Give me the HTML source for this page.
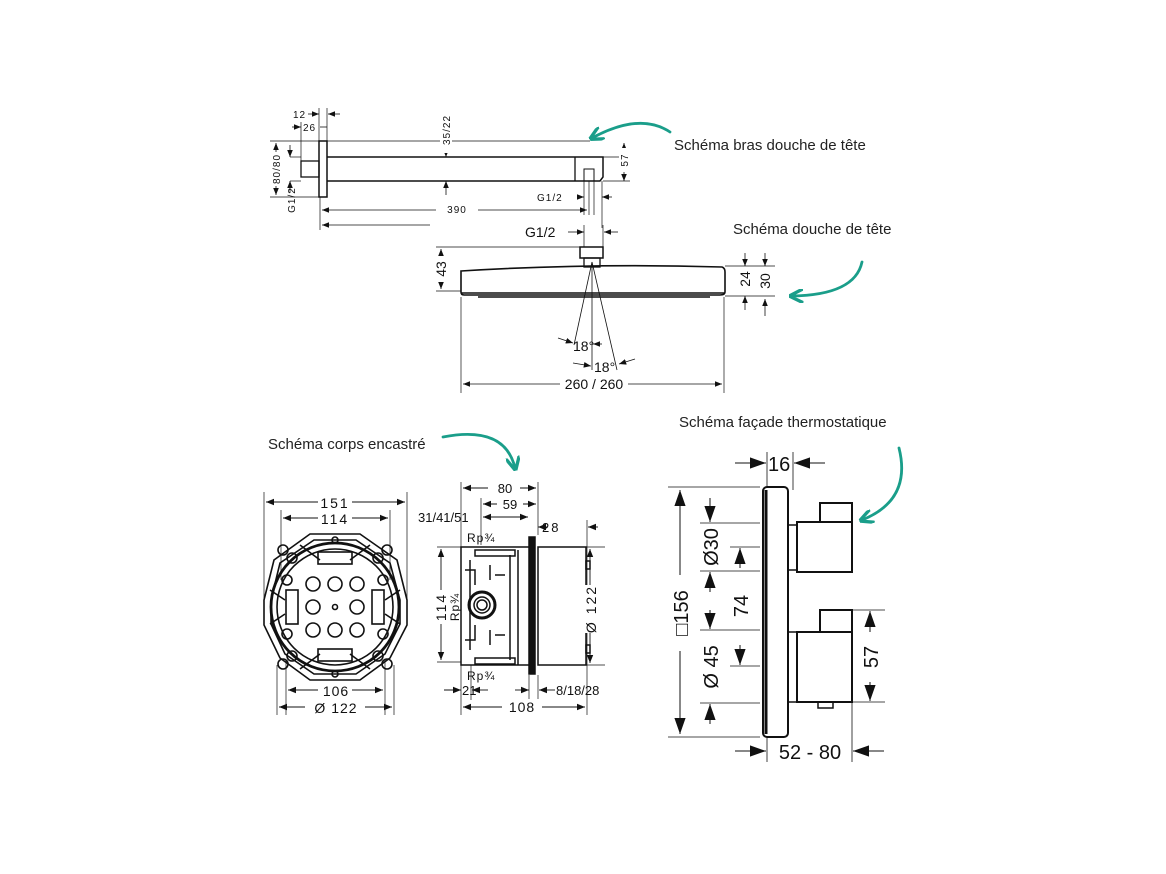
<!DOCTYPE html>
<html><head><meta charset="utf-8"><style>
html,body{margin:0;padding:0;background:#fff;}
svg{display:block;}
text{font-family:"Liberation Sans",sans-serif;fill:#111;}
.t{font-family:"Liberation Sans",sans-serif;fill:#222;font-size:15px;}
</style></head><body>
<svg width="1166" height="874" viewBox="0 0 1166 874" xmlns="http://www.w3.org/2000/svg">
<defs>
<marker id="a" viewBox="0 0 10 10" refX="10" refY="5" markerWidth="9" markerHeight="9" orient="auto-start-reverse"><path d="M0,1 L10,5 L0,9 z" fill="#111"/></marker>
<marker id="b" viewBox="0 0 10 10" refX="10" refY="5" markerWidth="16" markerHeight="16" orient="auto-start-reverse"><path d="M0,1.5 L10,5 L0,8.5 z" fill="#111"/></marker>
<marker id="g" viewBox="0 0 10 10" refX="8" refY="5" markerWidth="5" markerHeight="5" orient="auto"><path d="M0,0 L10,5 L0,10" fill="none" stroke="#1a9e8a" stroke-width="2.4"/></marker>
</defs>
<rect width="1166" height="874" fill="#fff"/>
<g stroke="#111" fill="none" stroke-width="1">
<!-- ===== Arm ===== -->
<rect x="319" y="141" width="8" height="56" stroke-width="1.5"/>
<rect x="301" y="161" width="18" height="16" stroke-width="1.3"/>
<path d="M327 157 H603 V177 L600 181 H327" stroke-width="1.5"/>
<line x1="575" y1="157" x2="575" y2="181" stroke-width="1.3"/>
<rect x="584" y="169" width="10" height="12"/>
<line x1="270" y1="141" x2="590" y2="141" stroke-width="0.7"/>
<line x1="270" y1="197" x2="319" y2="197" stroke-width="0.7"/>
<line x1="290" y1="157" x2="301" y2="157" stroke-width="0.7"/>
<line x1="290" y1="181" x2="301" y2="181" stroke-width="0.7"/>
<line x1="276" y1="143" x2="276" y2="195" marker-start="url(#a)" marker-end="url(#a)" stroke-width="0.8"/>
<line x1="290" y1="145" x2="290" y2="157" marker-end="url(#a)" stroke-width="0.8"/>
<line x1="290" y1="193" x2="290" y2="181" marker-end="url(#a)" stroke-width="0.8"/>
<line x1="319" y1="108" x2="319" y2="141" stroke-width="0.7"/>
<line x1="327" y1="108" x2="327" y2="141" stroke-width="0.7"/>
<line x1="301" y1="122" x2="301" y2="161" stroke-width="0.7"/>
<line x1="308" y1="114" x2="319" y2="114" marker-end="url(#a)" stroke-width="0.8"/>
<line x1="340" y1="114" x2="328" y2="114" marker-end="url(#a)" stroke-width="0.8"/>
<line x1="292" y1="127" x2="301" y2="127" marker-end="url(#a)" stroke-width="0.8"/>
<line x1="327" y1="127" x2="320" y2="127" stroke-width="0.8"/>
<line x1="446" y1="141" x2="446" y2="157" marker-end="url(#a)" stroke-width="0.8"/>
<line x1="446" y1="195" x2="446" y2="181" marker-end="url(#a)" stroke-width="0.8"/>
<line x1="603" y1="181" x2="630" y2="181" stroke-width="0.7"/>
<line x1="603" y1="157" x2="630" y2="157" stroke-width="0.7"/>
<line x1="624" y1="143" x2="624" y2="181" marker-start="url(#a)" marker-end="url(#a)" stroke-width="0.8"/>
<line x1="320" y1="197" x2="320" y2="230" stroke-width="0.7"/>
<line x1="584" y1="181" x2="584" y2="215" stroke-width="0.7"/>
<line x1="589" y1="181" x2="589" y2="215" stroke-width="0.7"/>
<line x1="594" y1="181" x2="594" y2="215" stroke-width="0.7"/>
<line x1="602" y1="181" x2="602" y2="228" stroke-width="0.7"/>
<line x1="322" y1="210" x2="587" y2="210" marker-start="url(#a)" marker-end="url(#a)" stroke-width="0.8"/>
<line x1="322" y1="225" x2="430" y2="225" marker-start="url(#a)" stroke-width="0.8"/>
<line x1="577" y1="197" x2="584" y2="197" marker-end="url(#a)" stroke-width="0.8"/>
<line x1="612" y1="197" x2="602" y2="197" marker-end="url(#a)" stroke-width="0.8"/>
<!-- ===== Shower head ===== -->
<rect x="580" y="247" width="23" height="11" stroke-width="1.5"/>
<rect x="584" y="258" width="16" height="9" stroke-width="1.3"/>
<line x1="584" y1="225" x2="584" y2="247" stroke-width="0.7"/>
<line x1="603" y1="225" x2="603" y2="247" stroke-width="0.7"/>
<line x1="568" y1="232" x2="584" y2="232" marker-end="url(#a)" stroke-width="0.8"/>
<line x1="618" y1="232" x2="604" y2="232" marker-end="url(#a)" stroke-width="0.8"/>
<path d="M461 271 Q590 263 722 267 Q725 268 725 272 V292 Q725 295 720 295 H464 Q461 295 461 292 Z" stroke-width="1.6"/>
<line x1="461" y1="293" x2="725" y2="293" stroke-width="1.5"/>
<line x1="478" y1="297" x2="710" y2="297" stroke-width="1.5"/>
<line x1="436" y1="247" x2="580" y2="247" stroke-width="0.7"/>
<line x1="436" y1="291" x2="461" y2="291" stroke-width="0.7"/>
<line x1="441" y1="249" x2="441" y2="289" marker-start="url(#a)" marker-end="url(#a)" stroke-width="0.8"/>
<line x1="725" y1="266" x2="775" y2="266" stroke-width="0.7"/>
<line x1="725" y1="296" x2="775" y2="296" stroke-width="0.7"/>
<line x1="745" y1="253" x2="745" y2="266" marker-end="url(#a)" stroke-width="0.8"/>
<line x1="745" y1="310" x2="745" y2="296" marker-end="url(#a)" stroke-width="0.8"/>
<line x1="765" y1="253" x2="765" y2="266" marker-end="url(#a)" stroke-width="0.8"/>
<line x1="765" y1="316" x2="765" y2="299" marker-end="url(#a)" stroke-width="0.8"/>
<line x1="592" y1="262" x2="574" y2="345" stroke-width="0.8"/>
<line x1="592" y1="262" x2="592" y2="370" stroke-width="0.8"/>
<line x1="592" y1="262" x2="617" y2="370" stroke-width="0.8"/>
<line x1="558" y1="338" x2="573" y2="343" marker-end="url(#a)" stroke-width="0.8"/>
<line x1="602" y1="344" x2="593" y2="344" marker-end="url(#a)" stroke-width="0.8"/>
<line x1="573" y1="363" x2="591" y2="366" marker-end="url(#a)" stroke-width="0.8"/>
<line x1="635" y1="359" x2="619" y2="364" marker-end="url(#a)" stroke-width="0.8"/>
<line x1="461" y1="297" x2="461" y2="393" stroke-width="0.7"/>
<line x1="724" y1="297" x2="724" y2="393" stroke-width="0.7"/>
<line x1="463" y1="384" x2="722" y2="384" marker-start="url(#a)" marker-end="url(#a)" stroke-width="0.8"/>
<!-- ===== Octagon body ===== -->
<g stroke-width="1.6">
<polygon points="310,534 360,534 397,560 407,600 407,625 390,658 360,680 310,680 280,658 264,625 264,600 274,560"/>
<polygon points="314,540 356,540 390,563 400,600 400,624 385,654 356,674 314,674 285,654 271,624 271,600 280,563"/>
<circle cx="335" cy="607" r="64" stroke-width="2.8"/>
<circle cx="335" cy="607" r="58"/>
<circle cx="313" cy="584" r="7"/><circle cx="335" cy="584" r="7"/><circle cx="357" cy="584" r="7"/>
<circle cx="313" cy="607" r="7"/><circle cx="335" cy="607" r="2.5"/><circle cx="357" cy="607" r="7"/>
<circle cx="313" cy="630" r="7"/><circle cx="335" cy="630" r="7"/><circle cx="357" cy="630" r="7"/>
<rect x="318" y="552" width="34" height="12"/><rect x="318" y="649" width="34" height="12"/>
<rect x="286" y="590" width="12" height="34"/><rect x="372" y="590" width="12" height="34"/>
<circle cx="292" cy="558" r="5"/><circle cx="378" cy="558" r="5"/><circle cx="292" cy="656" r="5"/><circle cx="378" cy="656" r="5"/>
<circle cx="287" cy="580" r="5"/><circle cx="383" cy="580" r="5"/><circle cx="287" cy="634" r="5"/><circle cx="383" cy="634" r="5"/>
<circle cx="283" cy="550" r="5"/><circle cx="387" cy="550" r="5"/><circle cx="283" cy="664" r="5"/><circle cx="387" cy="664" r="5"/>
<circle cx="335" cy="540" r="3"/><circle cx="335" cy="674" r="3"/>
<path d="M300 545 L320 560 M370 545 L350 560 M300 669 L320 654 M370 669 L350 654 M270 590 L285 600 M400 590 L385 600 M270 624 L285 614 M400 624 L385 614"/>
</g>
<line x1="264" y1="492" x2="264" y2="600" stroke-width="0.7"/>
<line x1="407" y1="492" x2="407" y2="600" stroke-width="0.7"/>
<line x1="281" y1="510" x2="281" y2="580" stroke-width="0.7"/>
<line x1="390" y1="510" x2="390" y2="580" stroke-width="0.7"/>
<line x1="286" y1="660" x2="286" y2="715" stroke-width="0.7"/>
<line x1="385" y1="660" x2="385" y2="715" stroke-width="0.7"/>
<line x1="277" y1="665" x2="277" y2="715" stroke-width="0.7"/>
<line x1="394" y1="665" x2="394" y2="715" stroke-width="0.7"/>
<line x1="266" y1="502" x2="405" y2="502" marker-start="url(#a)" marker-end="url(#a)" stroke-width="0.9"/>
<line x1="283" y1="518" x2="388" y2="518" marker-start="url(#a)" marker-end="url(#a)" stroke-width="0.9"/>
<line x1="288" y1="690" x2="383" y2="690" marker-start="url(#a)" marker-end="url(#a)" stroke-width="0.9"/>
<line x1="279" y1="707" x2="392" y2="707" marker-start="url(#a)" marker-end="url(#a)" stroke-width="0.9"/>
<!-- ===== Side body ===== -->
<g stroke-width="1.5">
<rect x="461" y="547" width="70" height="118"/>
<rect x="529" y="537" width="6" height="137" fill="#111"/>
<rect x="538" y="547" width="48" height="118"/>
<rect x="586" y="561" width="4" height="8"/><rect x="586" y="645" width="4" height="8"/>
<circle cx="482" cy="605" r="13" stroke-width="3"/>
<circle cx="482" cy="605" r="8"/><circle cx="482" cy="605" r="5"/>
<line x1="470" y1="560" x2="470" y2="650"/>
<line x1="510" y1="555" x2="510" y2="660"/>
<line x1="518" y1="550" x2="518" y2="665"/>
<rect x="475" y="550" width="40" height="6"/><rect x="475" y="658" width="40" height="6"/>
<path d="M490 565 V580 M490 630 V645 M505 575 H495 M505 635 H495 M465 570 H475 V585 M465 640 H475 V625"/>
</g>
<line x1="461" y1="482" x2="461" y2="715" stroke-width="0.7"/>
<line x1="538" y1="482" x2="538" y2="535" stroke-width="0.7"/>
<line x1="481" y1="498" x2="481" y2="545" stroke-width="0.7"/>
<line x1="587" y1="520" x2="587" y2="715" stroke-width="0.7"/>
<line x1="463" y1="488" x2="536" y2="488" marker-start="url(#a)" marker-end="url(#a)" stroke-width="0.9"/>
<line x1="483" y1="504" x2="536" y2="504" marker-start="url(#a)" marker-end="url(#a)" stroke-width="0.9"/>
<line x1="483" y1="517" x2="528" y2="517" marker-start="url(#a)" marker-end="url(#a)" stroke-width="0.9"/>
<line x1="548" y1="527" x2="538" y2="527" marker-end="url(#a)" stroke-width="0.9"/>
<line x1="598" y1="527" x2="588" y2="527" marker-end="url(#a)" stroke-width="0.9"/>
<line x1="437" y1="547" x2="461" y2="547" stroke-width="0.7"/>
<line x1="437" y1="662" x2="461" y2="662" stroke-width="0.7"/>
<line x1="441" y1="549" x2="441" y2="660" marker-start="url(#a)" marker-end="url(#a)" stroke-width="0.9"/>
<line x1="586" y1="547" x2="605" y2="547" stroke-width="0.7"/>
<line x1="586" y1="665" x2="605" y2="665" stroke-width="0.7"/>
<line x1="590" y1="549" x2="590" y2="663" marker-start="url(#a)" marker-end="url(#a)" stroke-width="0.9"/>
<line x1="471" y1="665" x2="471" y2="700" stroke-width="0.7"/>
<line x1="529" y1="675" x2="529" y2="700" stroke-width="0.7"/>
<line x1="538" y1="675" x2="538" y2="700" stroke-width="0.7"/>
<line x1="444" y1="690" x2="461" y2="690" marker-end="url(#a)" stroke-width="0.9"/>
<line x1="488" y1="690" x2="472" y2="690" marker-end="url(#a)" stroke-width="0.9"/>
<line x1="515" y1="690" x2="529" y2="690" marker-end="url(#a)" stroke-width="0.9"/>
<line x1="555" y1="690" x2="539" y2="690" marker-end="url(#a)" stroke-width="0.9"/>
<line x1="463" y1="707" x2="585" y2="707" marker-start="url(#a)" marker-end="url(#a)" stroke-width="0.9"/>
<!-- ===== Thermostat ===== -->
<rect x="763" y="487" width="25" height="250" rx="4" stroke-width="2"/>
<line x1="766" y1="490" x2="766" y2="734" stroke-width="3"/>
<rect x="788" y="525" width="9" height="45" stroke-width="1.5"/>
<rect x="797" y="522" width="55" height="50" stroke-width="2"/>
<rect x="820" y="503" width="32" height="19" stroke-width="2"/>
<rect x="788" y="632" width="9" height="70" stroke-width="1.5"/>
<rect x="797" y="632" width="55" height="70" stroke-width="2"/>
<rect x="820" y="610" width="32" height="22" stroke-width="2"/>
<rect x="818" y="702" width="15" height="6" stroke-width="1.5"/>
<line x1="668" y1="487" x2="760" y2="487" stroke-width="0.8"/>
<line x1="668" y1="737" x2="760" y2="737" stroke-width="0.8"/>
<line x1="680" y1="490" x2="680" y2="734" marker-start="url(#b)" marker-end="url(#b)" stroke-width="1"/>
<line x1="700" y1="523" x2="760" y2="523" stroke-width="0.8"/>
<line x1="700" y1="571" x2="760" y2="571" stroke-width="0.8"/>
<line x1="700" y1="630" x2="760" y2="630" stroke-width="0.8"/>
<line x1="700" y1="703" x2="760" y2="703" stroke-width="0.8"/>
<line x1="730" y1="547" x2="760" y2="547" stroke-width="0.8"/>
<line x1="730" y1="666" x2="760" y2="666" stroke-width="0.8"/>
<line x1="710" y1="498" x2="710" y2="522" marker-end="url(#b)" stroke-width="1"/>
<line x1="710" y1="592" x2="710" y2="572" marker-end="url(#b)" stroke-width="1"/>
<line x1="710" y1="610" x2="710" y2="629" marker-end="url(#b)" stroke-width="1"/>
<line x1="710" y1="724" x2="710" y2="704" marker-end="url(#b)" stroke-width="1"/>
<line x1="740" y1="568" x2="740" y2="548" marker-end="url(#b)" stroke-width="1"/>
<line x1="740" y1="645" x2="740" y2="665" marker-end="url(#b)" stroke-width="1"/>
<line x1="852" y1="610" x2="885" y2="610" stroke-width="0.8"/>
<line x1="852" y1="702" x2="885" y2="702" stroke-width="0.8"/>
<line x1="870" y1="632" x2="870" y2="611" marker-end="url(#b)" stroke-width="1"/>
<line x1="870" y1="682" x2="870" y2="701" marker-end="url(#b)" stroke-width="1"/>
<line x1="767" y1="452" x2="767" y2="487" stroke-width="0.8"/>
<line x1="793" y1="452" x2="793" y2="490" stroke-width="0.8"/>
<line x1="735" y1="463" x2="766" y2="463" marker-end="url(#b)" stroke-width="1"/>
<line x1="825" y1="463" x2="794" y2="463" marker-end="url(#b)" stroke-width="1"/>
<line x1="767" y1="737" x2="767" y2="762" stroke-width="0.8"/>
<line x1="852" y1="702" x2="852" y2="762" stroke-width="0.8"/>
<line x1="735" y1="751" x2="766" y2="751" marker-end="url(#b)" stroke-width="1"/>
<line x1="884" y1="751" x2="853" y2="751" marker-end="url(#b)" stroke-width="1"/>
</g>
<!-- dimension texts -->
<g font-size="10" letter-spacing="1">
<rect x="293" y="109" width="14" height="10" fill="#fff"/><text x="293" y="118">12</text>
<rect x="304" y="122" width="14" height="10" fill="#fff"/><text x="303" y="131">26</text>
<rect x="271" y="152" width="12" height="34" fill="#fff"/><text transform="translate(280,169) rotate(-90)" text-anchor="middle">80/80</text>
<text transform="translate(295,200) rotate(-90)" text-anchor="middle">G1/2</text>
<rect x="440" y="108" width="12" height="45" fill="#fff"/><text transform="translate(450,130) rotate(-90)" text-anchor="middle">35/22</text>
<rect x="619" y="148" width="12" height="24" fill="#fff"/><text transform="translate(628,160) rotate(-90)" text-anchor="middle">57</text>
<text x="537" y="201">G1/2</text>
<rect x="436" y="203" width="42" height="12" fill="#fff"/><text x="457" y="213" text-anchor="middle">390</text>
</g>
<g font-size="14">
<text x="525" y="237">G1/2</text>
<rect x="432" y="256" width="16" height="26" fill="#fff"/><text transform="translate(446,269) rotate(-90)" text-anchor="middle">43</text>
<rect x="738" y="268" width="14" height="22" fill="#fff"/><text transform="translate(750,279) rotate(-90)" text-anchor="middle">24</text>
<rect x="758" y="268" width="14" height="22" fill="#fff"/><text transform="translate(770,281) rotate(-90)" text-anchor="middle">30</text>
<text x="573" y="351">18°</text>
<text x="594" y="372">18°</text>
<rect x="560" y="376" width="68" height="16" fill="#fff"/><text x="594" y="389" text-anchor="middle">260 / 260</text>
<rect x="318" y="494" width="34" height="16" fill="#fff"/><text x="335" y="508" text-anchor="middle" letter-spacing="2">151</text>
<rect x="318" y="510" width="34" height="16" fill="#fff"/><text x="335" y="524" text-anchor="middle" letter-spacing="2">114</text>
<rect x="318" y="682" width="34" height="16" fill="#fff"/><text x="336" y="696" text-anchor="middle" letter-spacing="1">106</text>
<rect x="305" y="699" width="60" height="16" fill="#fff"/><text x="336" y="713" text-anchor="middle" letter-spacing="1">Ø 122</text>
<rect x="488" y="480" width="32" height="16" fill="#fff"/><text x="505" y="493" text-anchor="middle" font-size="13">80</text>
<rect x="497" y="496" width="26" height="16" fill="#fff"/><text x="510" y="509" text-anchor="middle" font-size="13">59</text>
<text x="418" y="522" font-size="13">31/41/51</text>
<text x="542" y="532" font-size="13" letter-spacing="2">28</text>
<text x="467" y="542" font-size="12" letter-spacing="1">Rp¾</text>
<text x="467" y="680" font-size="12" letter-spacing="1">Rp¾</text>
<rect x="432" y="590" width="18" height="34" fill="#fff"/><text transform="translate(446,607) rotate(-90)" text-anchor="middle" letter-spacing="2">114</text>
<text transform="translate(459,607) rotate(-90)" text-anchor="middle" font-size="12" letter-spacing="1">Rp¾</text>
<rect x="583" y="585" width="16" height="48" fill="#fff"/><text transform="translate(596,609) rotate(-90)" text-anchor="middle" letter-spacing="2">Ø 122</text>
<text x="462" y="695" font-size="13">21</text>
<text x="556" y="695" font-size="13">8/18/28</text>
<rect x="502" y="699" width="40" height="16" fill="#fff"/><text x="522" y="712" text-anchor="middle" letter-spacing="1">108</text>
</g>
<g font-size="20">
<text x="768" y="471">16</text>
<rect x="670" y="575" width="20" height="76" fill="#fff"/><text transform="translate(688,613) rotate(-90)" text-anchor="middle">□156</text>
<text transform="translate(718,547) rotate(-90)" text-anchor="middle">Ø30</text>
<text transform="translate(748,606) rotate(-90)" text-anchor="middle">74</text>
<text transform="translate(718,667) rotate(-90)" text-anchor="middle">Ø 45</text>
<text transform="translate(878,657) rotate(-90)" text-anchor="middle">57</text>
<text x="810" y="759" text-anchor="middle">52 - 80</text>
</g>
<!-- captions -->
<text class="t" x="674" y="150">Schéma bras douche de tête</text>
<text class="t" x="733" y="234">Schéma douche de tête</text>
<text class="t" x="268" y="449">Schéma corps encastré</text>
<text class="t" x="679" y="427">Schéma façade thermostatique</text>
<!-- teal arrows -->
<g fill="none" stroke="#1a9e8a" stroke-width="2.8" stroke-linecap="round">
<path d="M670 132 Q640 112 592 138" marker-end="url(#g)"/>
<path d="M862 262 Q855 295 792 296" marker-end="url(#g)"/>
<path d="M443 437 Q505 425 515 468" marker-end="url(#g)"/>
<path d="M899 448 Q912 500 862 520" marker-end="url(#g)"/>
</g>
</svg>
</body></html>
